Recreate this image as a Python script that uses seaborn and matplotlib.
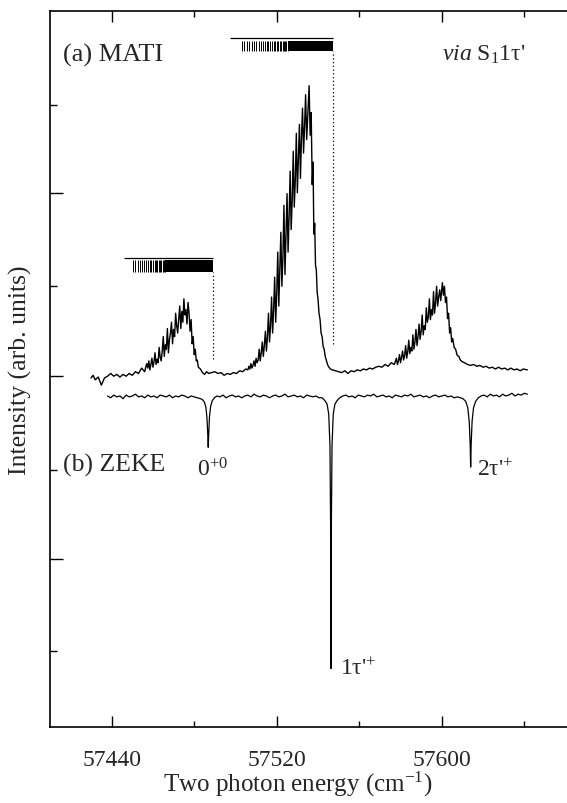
import numpy as np
import matplotlib
matplotlib.use("Agg")
import matplotlib.pyplot as plt
import seaborn as sns

# MATI trace (energy in cm-1, intensity arb. units)
mati_energy = [
    57430.0, 57431.0, 57432.0, 57433.5, 57435.0, 57436.5, 57438.0, 57439.5, 57441.0, 57442.5,
    57444.0, 57445.5, 57447.0, 57448.5, 57450.0, 57451.5, 57453.0, 57454.5, 57456.0,
    57456.5, 57457.0, 57457.5, 57458.0, 57458.5, 57459.0, 57459.5, 57460.0, 57460.5, 57461.0,
    57461.5, 57462.0, 57462.5, 57463.0, 57463.5, 57464.0, 57464.5, 57465.0, 57465.5, 57466.0,
    57466.5, 57467.0, 57467.5, 57468.0, 57468.5, 57469.0, 57469.5, 57470.0, 57470.5, 57471.0,
    57471.5, 57472.0, 57472.5, 57473.0, 57473.5, 57474.0, 57474.5, 57475.0, 57475.5, 57476.0,
    57476.5, 57477.0, 57477.5, 57478.0, 57478.5, 57479.0, 57479.5, 57480.0, 57480.5, 57481.0,
    57481.5, 57482.0, 57483.0, 57484.0, 57485.0, 57486.0, 57487.0, 57488.5, 57490.0, 57491.5,
    57493.0, 57494.5, 57496.0, 57497.5, 57499.0, 57500.5, 57502.0, 57503.5, 57505.0, 57506.0,
    57506.5, 57507.0, 57507.5, 57508.0, 57508.5, 57509.0, 57509.5, 57510.0, 57510.5, 57511.0,
    57511.5, 57512.0, 57512.5, 57513.0, 57513.5, 57514.0, 57514.5, 57515.0, 57515.5, 57516.0,
    57516.5, 57517.0, 57517.5, 57518.0, 57518.5, 57519.0, 57519.5, 57520.0, 57520.5, 57521.0,
    57521.5, 57522.0, 57522.5, 57523.0, 57523.5, 57524.0, 57524.5, 57525.0, 57525.5, 57526.0,
    57526.5, 57527.0, 57527.5, 57528.0, 57528.5, 57529.0, 57529.5, 57530.0, 57530.5, 57531.0,
    57531.5, 57532.0, 57532.5, 57533.0, 57533.5, 57534.0, 57534.5, 57535.0, 57535.7, 57536.2,
    57536.7, 57537.2, 57537.6, 57538.0, 57538.4, 57538.8, 57539.2, 57539.6, 57540.0, 57540.5,
    57541.0, 57541.5, 57542.0, 57542.5, 57543.0, 57543.5, 57544.0, 57544.5, 57545.0, 57546.0,
    57547.0, 57548.5, 57550.0, 57551.5, 57553.0, 57554.5, 57556.0, 57557.5, 57559.0, 57560.5,
    57562.0, 57563.5, 57565.0, 57566.5, 57568.0, 57569.5, 57571.0, 57572.5, 57574.0, 57575.5,
    57577.0, 57578.0, 57578.5, 57579.0, 57579.5, 57580.0, 57580.5, 57581.0, 57581.5, 57582.0,
    57582.5, 57583.0, 57583.5, 57584.0, 57584.5, 57585.0, 57585.5, 57586.0, 57586.5, 57587.0,
    57587.5, 57588.0, 57588.5, 57589.0, 57589.5, 57590.0, 57590.5, 57591.0, 57591.5, 57592.0,
    57592.5, 57593.0, 57593.5, 57594.0, 57594.5, 57595.0, 57595.5, 57596.0, 57596.5, 57597.0,
    57597.5, 57598.0, 57598.5, 57599.0, 57599.5, 57600.3, 57600.8, 57601.3, 57601.8, 57602.3,
    57602.8, 57603.3, 57603.8, 57604.3, 57604.8, 57605.3, 57606.0, 57606.7, 57607.5, 57608.3,
    57609.0, 57610.0, 57611.0, 57612.5, 57614.0, 57615.5, 57617.0, 57618.5, 57620.0, 57621.5,
    57623.0, 57624.5, 57626.0, 57627.5, 57629.0, 57630.5, 57632.0, 57633.5, 57635.0, 57636.5,
    57638.0, 57639.5, 57641.5,
]
mati_signal = [
    -0.10, -0.07, -0.12, -0.09, -0.18, -0.10, -0.08, -0.05, -0.08, -0.06,
    -0.09, -0.06, -0.08, -0.05, -0.07, -0.03, -0.05, 0.01, -0.03,
    0.02, 0.06, 0.01, 0.09, -0.01, 0.05, 0.12, 0.02, 0.08, 0.18,
    0.05, 0.11, 0.07, 0.24, 0.13, 0.09, 0.20, 0.36, 0.14, 0.27,
    0.22, 0.45, 0.18, 0.33, 0.40, 0.52, 0.28, 0.44, 0.36, 0.62,
    0.48, 0.40, 0.56, 0.70, 0.45, 0.64, 0.52, 0.78, 0.60, 0.66,
    0.50, 0.74, 0.62, 0.42, 0.55, 0.28, 0.36, 0.16, 0.22, 0.09,
    0.10, 0.02, 0.00, -0.04, -0.06, -0.03, -0.05, -0.04, -0.03, -0.05,
    -0.04, -0.07, -0.05, -0.06, -0.04, -0.05, -0.02, -0.03, 0.00, -0.01,
    0.03, 0.00, 0.06, 0.01, 0.04, 0.09, 0.03, 0.12, 0.07, 0.10,
    0.22, 0.09, 0.18, 0.30, 0.14, 0.26, 0.42, 0.20, 0.36, 0.62,
    0.30, 0.48, 0.80, 0.40, 0.66, 1.02, 0.52, 0.84, 1.30, 0.70,
    1.10, 1.52, 0.92, 1.25, 1.82, 1.05, 1.48, 1.95, 1.30, 1.70,
    2.20, 1.55, 1.88, 2.42, 1.80, 2.10, 2.62, 1.96, 2.35, 2.72,
    2.12, 2.58, 2.90, 2.40, 2.70, 3.05, 2.55, 2.80, 3.15, 2.60,
    2.85, 2.05, 2.30, 1.50, 1.62, 1.15, 1.10, 0.85, 0.78, 0.62,
    0.55, 0.40, 0.36, 0.25, 0.22, 0.14, 0.10, 0.06, 0.03, 0.00,
    -0.01, -0.02, -0.03, -0.04, -0.02, -0.05, -0.02, -0.03, -0.01, -0.02,
    0.00, -0.01, 0.01, 0.00, 0.02, 0.03, 0.02, 0.05, 0.03, 0.07,
    0.05, 0.12, 0.05, 0.09, 0.16, 0.07, 0.13, 0.20, 0.10, 0.15,
    0.26, 0.12, 0.19, 0.32, 0.17, 0.24, 0.20, 0.38, 0.22, 0.30,
    0.44, 0.26, 0.36, 0.50, 0.33, 0.42, 0.60, 0.38, 0.48, 0.44,
    0.68, 0.52, 0.58, 0.78, 0.55, 0.66, 0.60, 0.86, 0.62, 0.74,
    0.92, 0.70, 0.80, 0.88, 0.76, 0.96, 0.82, 0.92, 0.74, 0.80,
    0.56, 0.62, 0.40, 0.46, 0.30, 0.34, 0.24, 0.22, 0.15, 0.14,
    0.10, 0.08, 0.07, 0.05, 0.04, 0.05, 0.03, 0.04, 0.02, 0.03,
    0.01, 0.02, 0.00, 0.02, 0.00, 0.01, -0.01, 0.01, -0.01, 0.00,
    -0.02, 0.00, -0.01,
]

# ZEKE trace (drawn inverted below the MATI trace)
zeke_energy = [
    57438.0, 57439.5, 57441.0, 57442.5, 57444.0, 57445.5, 57447.0, 57448.5, 57450.0, 57451.5,
    57453.0, 57454.5, 57456.0, 57457.5, 57459.0, 57460.5, 57462.0, 57463.5, 57465.0, 57466.5,
    57468.0, 57469.5, 57471.0, 57472.5, 57474.0, 57475.5, 57477.0, 57478.5, 57480.0, 57481.5,
    57483.0,
    57484.0, 57485.0, 57485.7, 57486.2, 57486.6, 57486.8, 57487.0, 57487.4, 57488.0, 57488.8,
    57489.8,
    57491.0, 57492.5, 57494.0, 57495.5, 57497.0, 57498.5, 57500.0, 57501.5, 57503.0, 57504.5,
    57506.0, 57507.5, 57509.0, 57510.5, 57512.0, 57513.5, 57515.0, 57516.5, 57518.0, 57519.5,
    57521.0, 57522.5, 57524.0, 57525.5, 57527.0, 57528.5, 57530.0, 57531.5, 57533.0, 57534.5,
    57536.0, 57537.5, 57539.0, 57540.5,
    57542.0, 57543.3, 57544.4, 57545.2, 57545.8, 57546.1, 57546.3, 57546.5, 57546.8, 57547.4,
    57548.2, 57549.3, 57550.5,
    57552.0, 57553.5, 57555.0, 57556.5, 57558.0, 57559.5, 57561.0, 57562.5, 57564.0, 57565.5,
    57567.0, 57568.5, 57570.0, 57571.5, 57573.0, 57574.5, 57576.0, 57577.5, 57579.0, 57580.5,
    57582.0, 57583.5, 57585.0, 57586.5, 57588.0, 57589.5, 57591.0, 57592.5, 57594.0, 57595.5,
    57597.0, 57598.5, 57600.0, 57601.5, 57603.0, 57604.5, 57606.0, 57607.5, 57609.0,
    57610.3, 57611.6, 57612.6, 57613.3, 57613.75, 57614.0, 57614.25, 57614.7, 57615.4, 57616.4,
    57617.7,
    57619.0, 57620.5, 57622.0, 57623.5, 57625.0, 57626.5, 57628.0, 57629.5, 57631.0, 57632.5,
    57634.0, 57635.5, 57637.0, 57638.5, 57640.0, 57641.5,
]
zeke_signal = [
    -0.30, -0.32, -0.29, -0.31, -0.30, -0.33, -0.29, -0.31, -0.30, -0.28,
    -0.31, -0.30, -0.32, -0.29, -0.31, -0.30, -0.32, -0.29, -0.30, -0.31,
    -0.29, -0.32, -0.30, -0.31, -0.29, -0.30, -0.32, -0.30, -0.31, -0.32,
    -0.33,
    -0.34, -0.37, -0.43, -0.55, -0.74, -0.87, -0.74, -0.53, -0.41, -0.35,
    -0.32,
    -0.30, -0.31, -0.29, -0.32, -0.30, -0.29, -0.31, -0.30, -0.32, -0.30,
    -0.29, -0.31, -0.28, -0.30, -0.31, -0.29, -0.30, -0.32, -0.30, -0.29,
    -0.31, -0.30, -0.28, -0.31, -0.30, -0.29, -0.31, -0.30, -0.32, -0.29,
    -0.30, -0.31, -0.30, -0.32,
    -0.32, -0.35, -0.39, -0.50, -0.85, -1.70, -3.33, -1.70, -0.85, -0.50,
    -0.39, -0.35, -0.32,
    -0.30, -0.29, -0.31, -0.30, -0.32, -0.29, -0.30, -0.31, -0.29, -0.30,
    -0.28, -0.31, -0.30, -0.29, -0.31, -0.30, -0.32, -0.29, -0.30, -0.31,
    -0.29, -0.30, -0.28, -0.31, -0.30, -0.29, -0.31, -0.30, -0.32, -0.30,
    -0.29, -0.31, -0.30, -0.29, -0.31, -0.30, -0.32, -0.31, -0.32,
    -0.33, -0.36, -0.43, -0.58, -0.83, -1.09, -0.83, -0.58, -0.43, -0.36,
    -0.32,
    -0.30, -0.29, -0.31, -0.28, -0.30, -0.29, -0.31, -0.28, -0.30, -0.29,
    -0.27, -0.30, -0.28, -0.29, -0.27, -0.28,
]

# rotational stick combs (sparse part listed, dense part as a block up to the band head)
comb_low_sticks = [57450.3, 57451.5, 57452.6, 57453.7, 57454.7, 57455.7, 57456.6, 57457.5,
                   57458.4, 57459.2, 57460.0, 57460.8, 57461.5, 57462.2, 57462.9, 57463.5,
                   57464.1, 57464.7, 57465.3, 57465.9]
comb_low_block = (57466.0, 57489.1)
comb_low_line = (57446.0, 57489.1)
comb_low_y = (1.08, 1.21, 1.233)
comb_low_drop = 0.11

comb_high_sticks = [57503.0, 57504.3, 57505.5, 57506.7, 57507.9, 57509.0, 57510.1, 57511.2,
                    57512.2, 57513.2, 57514.2, 57515.1, 57516.0, 57516.9, 57517.7, 57518.5,
                    57519.3, 57520.1, 57520.8, 57521.5, 57522.2, 57522.9, 57523.5, 57524.1,
                    57524.7, 57525.3]
comb_high_block = (57525.6, 57547.4)
comb_high_line = (57497.2, 57547.4)
comb_high_y = (3.53, 3.65, 3.678)
comb_high_drop = 0.28

# peak labels: (energy, intensity, text)
peak_labels = [
    (57481.4, -1.11, r"0$^{+0}$"),
    (57550.7, -3.33, r"1τ'$^{+}$"),
    (57617.1, -1.12, r"2τ'$^{+}$"),
]

x_major = [57440, 57520, 57600]
x_minor = [57480, 57560, 57640]
y_major = [1.96, -0.08, -2.11]
y_minor = [2.94, 0.92, -1.12, -3.13]

sns.set_theme(style="ticks")
plt.rcParams.update({
    "font.family": ["Liberation Serif", "DejaVu Serif"],
    "mathtext.fontset": "custom",
    "mathtext.rm": "Liberation Serif",
    "mathtext.it": "Liberation Serif:italic",
    "axes.edgecolor": "black",
    "axes.linewidth": 1.2,
})

fig = plt.figure(figsize=(5.67, 8.04), dpi=100)
ax = fig.add_axes([50 / 567, 76 / 804, 517 / 567, 716 / 804])

sns.lineplot(x=mati_energy, y=mati_signal, ax=ax, color="black", lw=1.0,
             sort=False, estimator=None)
sns.lineplot(x=zeke_energy, y=zeke_signal, ax=ax, color="black", lw=0.9,
             sort=False, estimator=None)

# stick combs
for sticks, block, line, (y0, y1, yl), drop in [
        (comb_low_sticks, comb_low_block, comb_low_line, comb_low_y, comb_low_drop),
        (comb_high_sticks, comb_high_block, comb_high_line, comb_high_y, comb_high_drop)]:
    ax.vlines(sticks, y0, y1, color="black", lw=0.7)
    ax.fill_between(block, y0, y1, color="black", lw=0)
    ax.hlines(yl, line[0], line[1], color="black", lw=0.9)
    ax.vlines(block[1], drop, y0, color="black", lw=0.9, linestyles=(0, (1, 2)))

for e, i, txt in peak_labels:
    ax.text(e, i, txt, fontsize=17, va="center", ha="left")

ax.text(0.025, 0.94, "(a) MATI", transform=ax.transAxes, fontsize=19, va="center")
ax.text(0.919, 0.94, r"$\mathit{via}$ S$_1$1τ'", transform=ax.transAxes,
        fontsize=17, va="center", ha="right")
ax.text(0.025, 0.367, "(b) ZEKE", transform=ax.transAxes, fontsize=18.5, va="center")

ax.set_xlim(57410.1, 57660.7)
ax.set_ylim(-3.98, 3.98)
ax.set_xticks(x_major)
ax.set_xticks(x_minor, minor=True)
ax.set_yticks(y_major)
ax.set_yticks(y_minor, minor=True)
ax.tick_params(axis="x", which="both", direction="in", top=True, bottom=True,
               labelsize=17, pad=16, color="black", width=1)
ax.tick_params(axis="x", which="major", length=8)
ax.tick_params(axis="x", which="minor", length=4)
ax.tick_params(axis="y", which="both", direction="in", left=True, right=False,
               labelleft=False, color="black", width=1)
ax.tick_params(axis="y", which="major", length=9)
ax.tick_params(axis="y", which="minor", length=5)
ax.spines["right"].set_visible(False)

ax.set_xlabel(r"Two photon energy (cm$^{-1}$)", fontsize=18)
ax.set_ylabel("Intensity (arb. units)", fontsize=18.5)
ax.xaxis.set_label_coords(0.48, -0.058)
ax.yaxis.set_label_coords(-0.034, 0.5)

fig.savefig("out.png", dpi=100)
